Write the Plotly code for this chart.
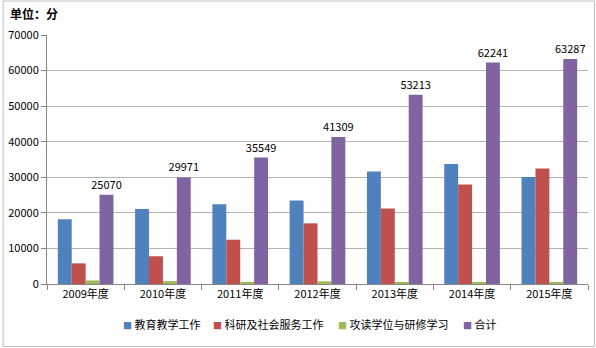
import plotly.graph_objects as go

categories = ["2009年度", "2010年度", "2011年度", "2012年度", "2013年度", "2014年度", "2015年度"]
teaching = [18200, 21100, 22400, 23500, 31600, 33700, 30100]
research = [5800, 7800, 12450, 17050, 21200, 28000, 32500]
study = [1000, 800, 600, 750, 500, 500, 600]
total = [25070, 29971, 35549, 41309, 53213, 62241, 63287]

series_names = ["教育教学工作", "科研及社会服务工作", "攻读学位与研修学习", "合计"]
colors = ["#4F81BD", "#C0504D", "#9BBB59", "#8064A2"]

W, H = 596, 348
ml, mr, mt, mb = 45, 8, 35, 64
pw, ph = W - ml - mr, H - mt - mb

font = "Noto Sans CJK SC, Liberation Sans, sans-serif"

fig = go.Figure()
for name, vals, c in zip(series_names, [teaching, research, study, total], colors):
    kw = {}
    if name == "合计":
        kw = dict(text=[str(v) for v in vals], textposition="outside", constraintext="none",
                  textfont=dict(size=11, color="#000000", family=font), cliponaxis=False)
    fig.add_trace(go.Bar(x=categories, y=vals, name=name, showlegend=False,
                         marker=dict(color=c, line=dict(width=0)), **kw))

# custom legend (small squares close to the text, as in the reference)
legend_px = [119, 210, 335, 461]
annotations = []
for name, c, px in zip(series_names, colors, legend_px):
    annotations.append(dict(
        xref="paper", yref="paper", x=(px - ml) / pw, y=-(324 - (H - mb)) / ph,
        xanchor="left", yanchor="middle", showarrow=False,
        text=f"<span style='color:{c};font-size:9px'>■</span> {name}",
        font=dict(size=11, family=font, color="#000000")))

fig.update_layout(
    width=W, height=H,
    margin=dict(l=ml, r=mr, t=mt, b=mb),
    paper_bgcolor="white", plot_bgcolor="white",
    barmode="group", bargap=0.28, bargroupgap=0,
    font=dict(family=font, size=11, color="#000000"),
    title=dict(text="<b>单位：分</b>", x=10 / W, xanchor="left", y=1 - 15 / H, yanchor="middle",
               font=dict(size=12, family=font, color="#000000")),
    showlegend=False,
    annotations=annotations,
    xaxis=dict(showline=True, linecolor="#868686", linewidth=1, ticks="outside", tickson="boundaries",
               ticklen=5, tickcolor="#868686", tickfont=dict(size=11, family=font), showgrid=False),
    yaxis=dict(range=[0, 70000], dtick=10000, showline=True, linecolor="#868686", linewidth=1,
               ticks="outside", ticklen=5, tickcolor="#868686", showgrid=True, gridcolor="#B3B3B3",
               gridwidth=1, zeroline=False, tickfont=dict(size=11, family=font), tickformat="d"),
    shapes=[dict(type="rect", xref="paper", yref="paper",
                 x0=(1 - ml) / pw, x1=(W - 1.5 - ml) / pw,
                 y0=-(mb - 1.5) / ph, y1=1 + (mt - 1) / ph,
                 line=dict(color="#BFBFBF", width=1), fillcolor="rgba(0,0,0,0)", layer="below")],
)

fig.write_html("out.html")
